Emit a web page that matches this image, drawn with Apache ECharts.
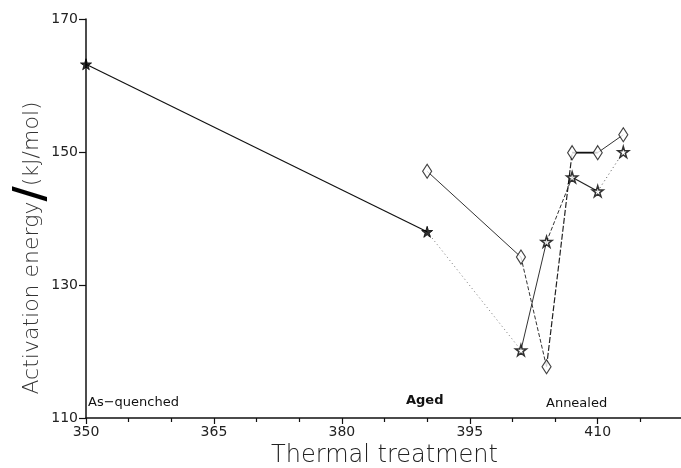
<!DOCTYPE html>
<html><head><meta charset="utf-8">
<script src="https://cdn.jsdelivr.net/npm/echarts@6/dist/echarts.min.js"></script>
<style>html,body{margin:0;padding:0;background:#fff}#c{width:681px;height:468px}</style>
</head><body><div id="c"></div>
<script>
// Data
const starX = [350, 390, 401, 404, 407, 410, 413];
const starY = [163.2, 138.0, 120.2, 136.5, 146.2, 144.1, 150.0];
const diamondX = [390, 401, 404, 407, 410, 413];
const diamondY = [147.1, 134.2, 117.7, 149.9, 149.9, 152.6];
const xTicks = [350, 365, 380, 395, 410];
const yTicks = [110, 130, 150, 170];
const annotations = ['As\u2212quenched', 'Aged', 'Annealed'];

// segment styles (not data)
const starSeg = [
  {type: 'solid', color: '#111', width: 1.2},
  {type: [1, 3], color: '#777', width: 1},
  {type: 'solid', color: '#333', width: 1},
  {type: [4, 2], color: '#333', width: 1},
  {type: 'solid', color: '#222', width: 1.2},
  {type: [1, 3], color: '#555', width: 1}
];
const diaSeg = [
  {type: 'solid', color: '#333', width: 1},
  {type: [4, 2], color: '#333', width: 1},
  {type: [6, 2], color: '#222', width: 1.2},
  {type: 'solid', color: '#111', width: 1.8},
  {type: 'solid', color: '#333', width: 1}
];
const starPath = 'path://M50,0 L61,35 L98,35 L68,57 L79,91 L50,70 L21,91 L32,57 L2,35 L39,35 Z';

const series = [];
for (let i = 0; i < starX.length - 1; i++) {
  series.push({type: 'line', symbol: 'none', silent: true, z: 2,
    data: [[starX[i], starY[i]], [starX[i+1], starY[i+1]]],
    lineStyle: starSeg[i]});
}
for (let i = 0; i < diamondX.length - 1; i++) {
  series.push({type: 'line', symbol: 'none', silent: true, z: 2,
    data: [[diamondX[i], diamondY[i]], [diamondX[i+1], diamondY[i+1]]],
    lineStyle: diaSeg[i]});
}
series.push({type: 'scatter', z: 5, symbol: starPath, symbolSize: 11,
  data: starX.map((x, i) => ({value: [x, starY[i]],
    itemStyle: i < 2 ? {color: '#000', borderColor: '#000', borderWidth: 1}
                     : {color: '#fff', borderColor: '#000', borderWidth: 1.5}}))});
series.push({type: 'scatter', z: 5, symbol: 'diamond', symbolSize: [9, 14],
  data: diamondX.map((x, i) => [x, diamondY[i]]),
  itemStyle: {color: '#fff', borderColor: '#111', borderWidth: 1.2}});

const chart = echarts.init(document.getElementById('c'), null, {renderer: 'canvas'});
chart.setOption({
  animation: false,
  backgroundColor: '#fff',
  grid: {left: 86, top: 19, bottom: 50, right: -2, containLabel: false, outerBoundsMode: 'none'},
  xAxis: {
    type: 'value', min: 350, max: 420, interval: 15,
    axisLine: {lineStyle: {color: '#111', width: 1.5}},
    axisTick: {length: 6, lineStyle: {color: '#111', width: 1.2}},
    minorTick: {show: true, splitNumber: 3, length: 4, lineStyle: {color: '#111', width: 1.2}},
    splitLine: {show: false},
    axisLabel: {fontFamily: 'DejaVu Sans', fontSize: 14, color: '#222', margin: 7,
      formatter: v => xTicks.includes(v) ? String(v) : ''},
    name: 'Thermal treatment', nameLocation: 'middle', nameGap: 26,
    nameTextStyle: {fontFamily: 'DejaVu Sans', fontSize: 24, color: '#222', fontWeight: 'lighter'}
  },
  yAxis: {
    type: 'value', min: 110, max: 170, interval: 20,
    axisLine: {show: true, lineStyle: {color: '#111', width: 1.5}},
    axisTick: {show: true, length: 7, lineStyle: {color: '#111', width: 1.2}},
    splitLine: {show: false},
    axisLabel: {fontFamily: 'DejaVu Sans', fontSize: 14, color: '#222', margin: 8,
      formatter: v => yTicks.includes(v) ? String(v) : ''}
  },
  graphic: [
    {type: 'text', left: 88, top: 396, style: {text: annotations[0], font: '13px "DejaVu Sans"', fill: '#111'}},
    {type: 'text', left: 406, top: 394, style: {text: annotations[1], font: 'bold 13px "DejaVu Sans"', fill: '#111'}},
    {type: 'text', left: 546, top: 397, style: {text: annotations[2], font: '13px "DejaVu Sans"', fill: '#111'}},
    {type: 'text', x: 32, y: 248, rotation: Math.PI / 2, style: {
      text: '{a|Activation energy}{s|/}{a|(kJ/mol)}', align: 'center', verticalAlign: 'middle',
      rich: {a: {fontSize: 22, fontFamily: 'DejaVu Sans', fill: '#333', fontWeight: 'lighter'},
             s: {fontSize: 42, fontFamily: 'DejaVu Sans', fontWeight: 'bold', fill: '#000'}}}}
  ],
  series: series
});
</script></body></html>
